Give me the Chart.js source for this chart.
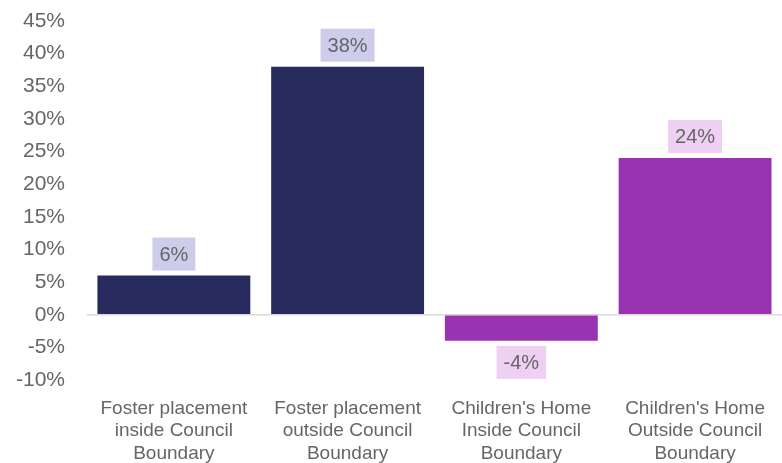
<!DOCTYPE html>
<html>
<head>
<meta charset="utf-8">
<script src="https://cdn.jsdelivr.net/npm/chart.js@4"></script>
<style>
  html, body { margin: 0; padding: 0; background: #fff; }
  #wrap { width: 782px; height: 463px; position: relative; }
</style>
</head>
<body>
<div id="wrap"><canvas id="placementChart"></canvas></div>
<script>
// Change in placements by type
const categories = [
    ['Foster placement', 'inside Council', 'Boundary'],
    ['Foster placement', 'outside Council', 'Boundary'],
    ["Children's Home", 'Inside Council', 'Boundary'],
    ["Children's Home", 'Outside Council', 'Boundary']
];
const changePct = [6, 38, -4, 24];
const barColors = ['#272b5d', '#272b5d', '#9a33b2', '#9a33b2'];
const labelBoxColors = ['#cdcdeb', '#cdcdeb', '#eed0f3', '#eed0f3'];

const FONT = '"Liberation Sans", Arial, sans-serif';

// value labels with a filled box above / below each bar
const boxLabels = {
    id: 'boxLabels',
    afterDatasetsDraw(chart) {
        const ctx = chart.ctx;
        const meta = chart.getDatasetMeta(0);
        ctx.save();
        ctx.font = '20px ' + FONT;
        ctx.textAlign = 'center';
        ctx.textBaseline = 'middle';
        meta.data.forEach((bar, i) => {
            const v = changePct[i];
            const txt = v + '%';
            const w = ctx.measureText(txt).width + 14;
            const h = 33;
            const y = v >= 0 ? bar.y - 5 - h : bar.y + 5;
            ctx.fillStyle = labelBoxColors[i];
            ctx.fillRect(bar.x - w / 2, y, w, h);
            ctx.fillStyle = '#666666';
            ctx.fillText(txt, bar.x, y + h / 2 + 1);
        });
        ctx.restore();
    }
};

const ctx = document.getElementById('placementChart').getContext('2d');
new Chart(ctx, {
    type: 'bar',
    data: {
        labels: categories,
        datasets: [{
            data: changePct,
            backgroundColor: barColors,
            borderWidth: 0,
            barPercentage: 0.88,
            categoryPercentage: 1
        }]
    },
    options: {
        responsive: true,
        maintainAspectRatio: false,
        animation: false,
        layout: { padding: 0 },
        plugins: {
            legend: { display: false },
            tooltip: { enabled: false }
        },
        scales: {
            x: {
                grid: { display: false, drawTicks: false },
                border: { display: false },
                ticks: {
                    color: '#666666',
                    font: { family: FONT, size: 19, lineHeight: 1.2 },
                    padding: 17,
                    maxRotation: 0,
                    autoSkip: false
                },
                afterFit(scale) { scale.height = 83; }
            },
            y: {
                min: -10,
                max: 45,
                grid: {
                    drawTicks: false,
                    color: (c) => c.tick && c.tick.value === 0 ? '#d9d9d9' : 'transparent',
                    lineWidth: 1.5
                },
                border: { display: false },
                ticks: {
                    stepSize: 5,
                    color: '#666666',
                    font: { family: FONT, size: 21 },
                    padding: 22,
                    callback: (v) => v + '%'
                },
                afterFit(scale) {
                    scale.width = 87;
                    scale.paddingTop = 21;
                    scale.paddingBottom = 10;
                }
            }
        }
    },
    plugins: [boxLabels]
});
</script>
</body>
</html>
